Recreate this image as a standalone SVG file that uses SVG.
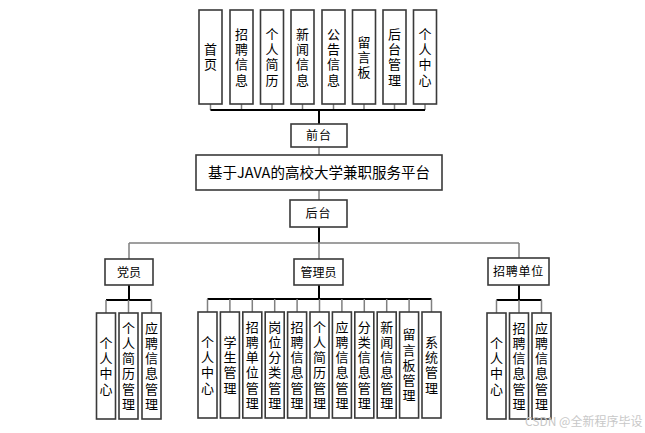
<svg xmlns="http://www.w3.org/2000/svg" width="645" height="433" viewBox="0 0 645 433">
<style>
.box{fill:#fff;stroke:#3a3a3a;stroke-width:1.6}
.t{font-family:"Noto Sans CJK SC","Microsoft YaHei",sans-serif;font-size:12px;fill:#000;text-anchor:middle}
.v{font-family:"Noto Sans CJK SC","Microsoft YaHei",sans-serif;font-size:13px;fill:#000;text-anchor:middle;writing-mode:vertical-rl;text-orientation:upright;letter-spacing:2.2px}
.tt{font-family:"Noto Sans CJK SC","Microsoft YaHei",sans-serif;font-size:14.5px;fill:#000;text-anchor:middle}
.g{stroke:#808080;stroke-width:1.5;fill:none}
.k{stroke:#000;stroke-width:2;fill:none}
.wm{font-family:"Noto Sans CJK SC",sans-serif;font-size:12px;fill:#c8c8c8}
</style>
<rect width="645" height="433" fill="#fff"/>
<g id="connectors">
<path class="g" d="M210.5 104V110M241.5 104V110M272 104V110M302.5 104V110M333.5 104V110M364 104V110M394.5 104V110M425 104V110"/>
<path class="k" d="M210.5 110H425M319 110V124"/>
<path class="g" d="M319 147V155M319 190V200"/>
<path class="k" d="M319 227V243" stroke-width="1.6"/>
<path class="g" d="M129 243H519M129 243V259M319 243V259M519 243V258" stroke-width="2"/>
<path class="k" d="M129 285V300M319 285V299M519 285V300"/>
<path class="k" d="M106 300H151.5M207.5 299H431.5M496.5 300H541.5" stroke-width="1.3"/>
<path class="g" d="M106 300V313M128.5 300V313M151.5 300V313"/>
<path class="g" d="M207.5 299V312M229.9 299V312M252.3 299V312M274.7 299V312M297.1 299V312M319.5 299V312M341.9 299V312M364.3 299V312M386.7 299V312M409.1 299V312M431.5 299V312"/>
<path class="g" d="M496.5 300V313M519 300V313M541.5 300V313"/>
</g>
<g id="n-shouye"><rect class="box" x="199" y="10" width="23" height="94"/><text class="v" x="210.5" y="58">首页</text></g>
<g id="n-zhaopinxinxi"><rect class="box" x="230" y="10" width="23" height="94"/><text class="v" x="241.5" y="58">招聘信息</text></g>
<g id="n-gerenjianli"><rect class="box" x="260.5" y="10" width="23" height="94"/><text class="v" x="272" y="58">个人简历</text></g>
<g id="n-xinwenxinxi"><rect class="box" x="291" y="10" width="23" height="94"/><text class="v" x="302.5" y="58">新闻信息</text></g>
<g id="n-gonggaoxinxi"><rect class="box" x="322" y="10" width="23" height="94"/><text class="v" x="333.5" y="58">公告信息</text></g>
<g id="n-liuyanban"><rect class="box" x="352.5" y="10" width="23" height="94"/><text class="v" x="364" y="58">留言板</text></g>
<g id="n-houtaiguanli"><rect class="box" x="383" y="10" width="23" height="94"/><text class="v" x="394.5" y="58">后台管理</text></g>
<g id="n-gerenzhongxin-top"><rect class="box" x="413.5" y="10" width="23" height="94"/><text class="v" x="425" y="58">个人中心</text></g>
<g id="n-qiantai"><rect class="box" x="291" y="124" width="56" height="23"/><text class="t" x="319" y="140" letter-spacing="1">前台</text></g>
<g id="n-title"><rect class="box" x="196" y="155" width="246" height="35"/><text class="tt" x="319" y="178">基于JAVA的高校大学兼职服务平台</text></g>
<g id="n-houtai"><rect class="box" x="290" y="200" width="57" height="27"/><text class="t" x="318.5" y="218" letter-spacing="1">后台</text></g>
<g id="n-dangyuan"><rect class="box" x="105" y="259" width="48" height="26"/><text class="t" x="129" y="276.5">党员</text></g>
<g id="n-guanliyuan"><rect class="box" x="294" y="259" width="49" height="26"/><text class="t" x="318.5" y="276.5">管理员</text></g>
<g id="n-zhaopindanwei"><rect class="box" x="488" y="258" width="61" height="27"/><text class="t" x="518.5" y="276" letter-spacing="0.8">招聘单位</text></g>
<g id="n-d1"><rect class="box" x="96.5" y="313" width="19" height="106"/><text class="v" x="106" y="367">个人中心</text></g>
<g id="n-d2"><rect class="box" x="119" y="313" width="19" height="106"/><text class="v" x="128.5" y="367">个人简历管理</text></g>
<g id="n-d3"><rect class="box" x="142" y="313" width="19" height="106"/><text class="v" x="151.5" y="367">应聘信息管理</text></g>
<g id="n-g1"><rect class="box" x="198" y="312" width="19" height="106"/><text class="v" x="207.5" y="366">个人中心</text></g>
<g id="n-g2"><rect class="box" x="220.4" y="312" width="19" height="106"/><text class="v" x="229.9" y="366">学生管理</text></g>
<g id="n-g3"><rect class="box" x="242.8" y="312" width="19" height="106"/><text class="v" x="252.3" y="366">招聘单位管理</text></g>
<g id="n-g4"><rect class="box" x="265.2" y="312" width="19" height="106"/><text class="v" x="274.7" y="366">岗位分类管理</text></g>
<g id="n-g5"><rect class="box" x="287.6" y="312" width="19" height="106"/><text class="v" x="297.1" y="366">招聘信息管理</text></g>
<g id="n-g6"><rect class="box" x="310" y="312" width="19" height="106"/><text class="v" x="319.5" y="366">个人简历管理</text></g>
<g id="n-g7"><rect class="box" x="332.4" y="312" width="19" height="106"/><text class="v" x="341.9" y="366">应聘信息管理</text></g>
<g id="n-g8"><rect class="box" x="354.8" y="312" width="19" height="106"/><text class="v" x="364.3" y="366">分类信息管理</text></g>
<g id="n-g9"><rect class="box" x="377.2" y="312" width="19" height="106"/><text class="v" x="386.7" y="366">新闻信息管理</text></g>
<g id="n-g10"><rect class="box" x="399.6" y="312" width="19" height="106"/><text class="v" x="409.1" y="366">留言板管理</text></g>
<g id="n-g11"><rect class="box" x="422" y="312" width="19" height="106"/><text class="v" x="431.5" y="366">系统管理</text></g>
<g id="n-z1"><rect class="box" x="487" y="313" width="19" height="106"/><text class="v" x="496.5" y="367">个人中心</text></g>
<g id="n-z2"><rect class="box" x="509.5" y="313" width="19" height="106"/><text class="v" x="519" y="367">招聘信息管理</text></g>
<g id="n-z3"><rect class="box" x="532" y="313" width="19" height="106"/><text class="v" x="541.5" y="367">应聘信息管理</text></g>
<text class="wm" x="525" y="426">CSDN @全新程序毕设</text>
</svg>
